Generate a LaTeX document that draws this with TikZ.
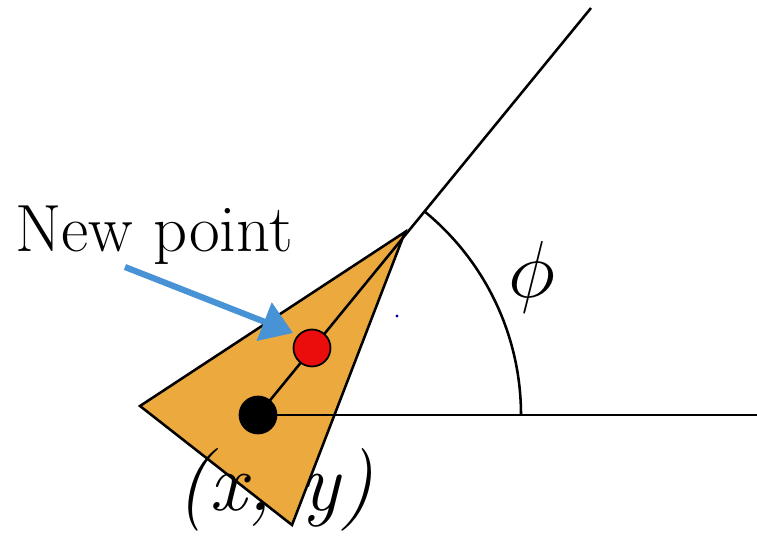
\documentclass[tikz,border=0pt]{standalone}
\usetikzlibrary{arrows.meta, positioning, backgrounds}
\definecolor{wedge}{RGB}{236,170,62}
\definecolor{arrowblue}{RGB}{72,146,214}
\definecolor{newred}{RGB}{235,12,12}

\begin{document}
\begin{tikzpicture}[x=0.02cm, y=0.02cm, >=Triangle]
        \tikzstyle{dot} = [circle, draw=black, line width=1pt, inner sep=0pt, minimum size=0.74cm]
        \tikzstyle{label} = [inner sep=0pt]
        \tikzstyle{ray} = [draw=black, line width=1.45pt]
        \useasboundingbox (0,0) rectangle (757,540);

        % Points
        \node [dot, fill=black] (xy) at (258,125) {};
        \node [dot, fill=newred] (newpt) at (312,192) {};

        % Wedge corners and ray ends
        \coordinate (tip) at (405,308);
        \coordinate (left) at (140,134);
        \coordinate (bottom) at (292,15);
        \coordinate (far) at (591,532);
        \coordinate (east) at (757,125);

        % Wedge, rays and angle
        \begin{scope}[on background layer]
            \draw [ray, fill=wedge] (tip) -- (left) -- (bottom) -- cycle;
            \draw [ray] (xy.center) -- (far);
            \draw [ray] (xy.center) -- (east);
            \draw [ray] (xy.center) ++(0:263) arc (0:50.7:263);
        \end{scope}
        \fill [blue!60!black] (397,224) circle (1.6);

        % Labels
        \node [label, anchor=base west, font=\fontsize{38}{44}\selectfont] (lblnew) at (15,288) {New point};
        \node [label, font=\fontsize{47}{54}\selectfont\itshape] (lblxy) at (275,50) {(x, y)};
        \node [label, font=\Huge, scale=1.85] (lblphi) at (532,263) {$\phi$};

        % Pointer to new point
        \coordinate (arrfrom) at (125,273);
        \coordinate (arrto) at (293,207);
        \draw [arrowblue, line width=3.5pt, -{Triangle[length=0.62cm, width=0.8cm]}] (arrfrom) -- (arrto);

\end{tikzpicture}
\end{document}
